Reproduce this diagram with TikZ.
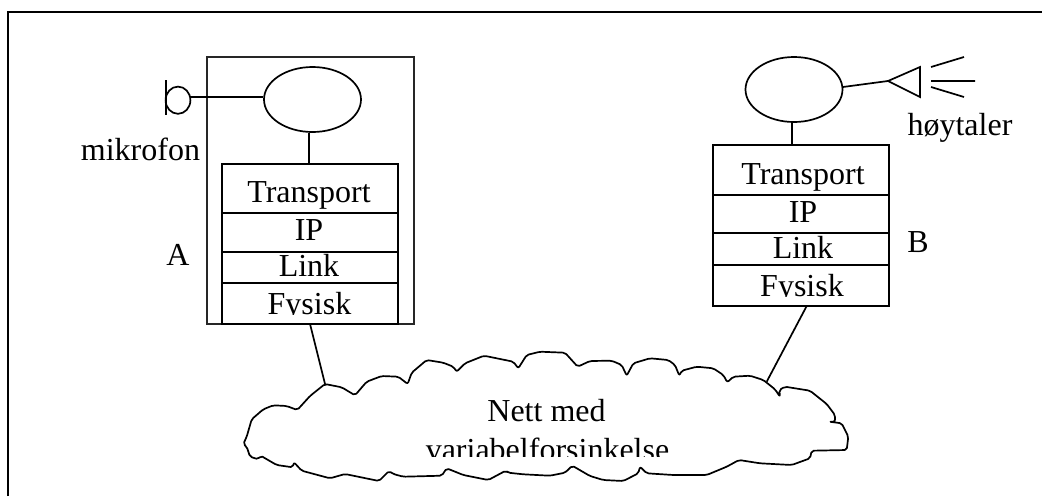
\documentclass[tikz,border=0pt]{standalone}
\usepackage{fontspec}
\setmainfont{Liberation Serif}
\tikzset{
  x=1pt,y=-1pt,
  line/.style={line width=1.7pt,black},
  lab/.style={inner sep=0pt,outer sep=0pt,anchor=base,font=\fontsize{32}{36}\selectfont},
  oval/.style={ellipse,draw,line width=1.7pt,inner sep=0pt,minimum width=97pt,minimum height=65pt},
  cloudline/.style={line width=1.7pt,line join=round,line cap=round,rounded corners=2pt},
}
\usetikzlibrary{shapes.geometric}
\begin{document}
\begin{tikzpicture}
\useasboundingbox (0,0) rectangle (1042,496);
% frame
\draw[line width=2pt] (8,496) -- (8,11.5) -- (1042,11.5);
% host A
\draw[line width=1.9pt,draw=black!85] (207,57) rectangle (414,324);
\node[oval] (ea) at (312.5,99.5) {};
\draw[line] (222,164) rectangle (398,324);
\draw[line] (222,213) -- (398,213) (222,252) -- (398,252) (222,283) -- (398,283);
\node[lab] (ta) at (309,202.7) {Transport};
\node[lab] (ia) at (309,240) {IP};
\node[lab] (la) at (309,276.7) {Link};
\begin{scope}
\clip (222,284) rectangle (398,314);
\node[lab] (fa) at (309.5,314) {Fysisk};
\end{scope}
\coordinate (sat) at (309,164);
\coordinate (sab) at (310,324);
\draw[line] (ea.south -| sat) -- (sat);
% microphone
\coordinate (micr) at (190.3,97);
\draw[line] (165.7,80) -- (165.7,114.5);
\draw[line] (178,100.2) ellipse[x radius=12.4,y radius=13.6];
\draw[line] (micr) -- (ea.west |- micr);
\node[lab] (mik) at (140.5,160) {mikrofon};
\node[lab] (a) at (178,265) {A};
% host B
\node[oval] (eb) at (794,89.5) {};
\draw[line] (713,145) rectangle (889,306);
\draw[line] (713,195) -- (889,195) (713,233) -- (889,233) (713,265) -- (889,265);
\node[lab] (tb) at (803,184) {Transport};
\node[lab] (ib) at (803,222) {IP};
\node[lab] (lb) at (803,258) {Link};
\begin{scope}
\clip (713,266) rectangle (889,296);
\node[lab] (fb) at (802,296) {Fysisk};
\end{scope}
\coordinate (sbt) at (792,145);
\coordinate (sbb) at (806.7,306);
\draw[line] (eb.south -| sbt) -- (sbt);
% speaker
\coordinate (sp) at (888,81);
\draw[line] (843,87) -- (sp);
\draw[line,line join=miter] (sp) -- (920,67) -- (920,97) -- cycle;
\draw[line] (931,67) -- (964,57) (931,81) -- (975,81) (931,87) -- (964,97);
\node[lab] (hoy) at (960,135) {høytaler};
\node[lab] (b) at (918,252) {B};
% cloud
\coordinate (cl) at (325,384);
\coordinate (cr) at (766.7,381.7);
\draw[cloudline] (243.3,444) -- (246.7,436.7) -- (251.7,419.3) -- (263.3,409.3) -- (273.3,405.3) -- (286.7,406) -- (297.3,410)
 -- (310,396) -- (325,384) -- (341.7,387.3) -- (355,395.3)
 -- (366.7,381.7) -- (381.7,376) -- (398.3,376.7) -- (407.7,384)
 -- (411.7,372.7) -- (426.7,360) -- (443.3,362.7) -- (453.3,366.7) -- (456.7,371.7)
 -- (465,363.3) -- (484,355.7) -- (513.3,361.7) -- (518.3,368.3)
 -- (526.7,355) -- (540,351.7) -- (565,352.7) -- (577.7,366.7)
 -- (590,361) -- (611.7,360.7) -- (621.7,365) -- (626.7,375.7)
 -- (633.3,363.3) -- (650,358.3) -- (668.3,360) -- (675,365) -- (679.3,375.7)
 -- (681.7,370.7) -- (696.7,366.7) -- (713.3,368.3) -- (723.3,375) -- (727.3,382.3)
 -- (733.3,376.7) -- (750,375.7) -- (763.3,380) -- (775,389.3) -- (780,396.7)
 -- (779.3,390) -- (785,386.7) -- (810,390.7) -- (826.7,404) -- (835,415) -- (835,421.7) -- (829.3,421.7)
 -- (841.7,423.3) -- (848.3,436.7) -- (846.7,450) -- (811.7,450.7) -- (810,458.3)
 -- (791.7,465) -- (760,463.3) -- (739,460) -- (726.7,466.7) -- (706.7,475) -- (673.3,475) -- (646.7,473.3) -- (640,466.7)
 -- (638.3,473.3) -- (623.3,481) -- (603.3,480) -- (590,476) -- (572.3,465.7)
 -- (565,472.7) -- (550,475.7) -- (523.3,474.3) -- (508.3,472.7) -- (505.7,470.7)
 -- (488.3,480) -- (463.3,475) -- (446.7,468.3)
 -- (441.7,475.7) -- (403.3,476.7) -- (393.3,474) -- (389,471)
 -- (379,481) -- (345,474) -- (330,478.3) -- (301.7,470.7) -- (294,462.3)
 -- (292.7,467.3) -- (276.7,465) -- (260.7,455.7)
 -- (258.3,459.3) -- (250,456.7) -- (246.7,446.7) -- cycle;
\node[lab] (n1) at (546.5,421.7) {Nett med};
\begin{scope}
\clip (400,425) rectangle (700,456.7);
\node[lab] (n2) at (547.5,460) {variabelforsinkelse};
\end{scope}
% links to cloud
\draw[line] (sab) -- (cl);
\draw[line] (sbb) -- (cr);
\end{tikzpicture}
\end{document}
